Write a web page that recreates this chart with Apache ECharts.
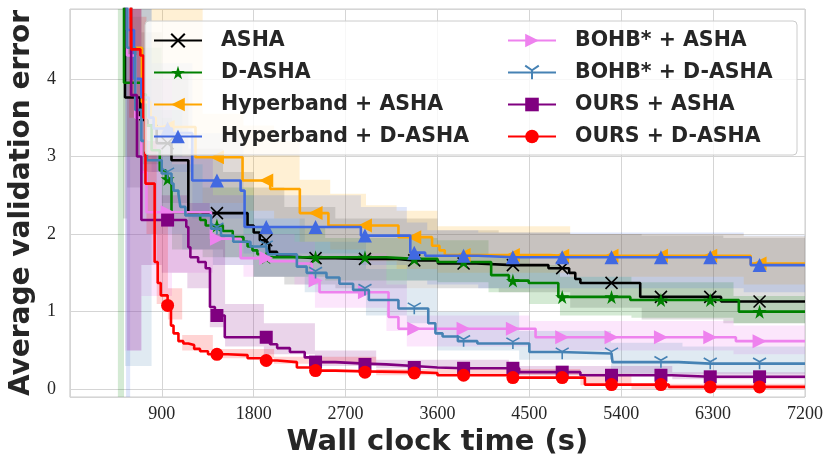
<!DOCTYPE html>
<html><head><meta charset="utf-8">
<script src="https://cdn.jsdelivr.net/npm/echarts@6/dist/echarts.min.js"></script>
<style>html,body{margin:0;padding:0;background:#fff}#c{width:830px;height:467px}</style>
</head><body><div id="c"></div>
<script>
// ---- data (time in seconds, error values) ----
const names = ['ASHA','D-ASHA','Hyperband + ASHA','Hyperband + D-ASHA','BOHB* + ASHA','BOHB* + D-ASHA','OURS + ASHA','OURS + D-ASHA'];
const xTicks = [900,1800,2700,3600,4500,5400,6300,7200];
const yTicks = [0,1,2,3,4];
const markerT = [957,1440,1923,2406,2890,3373,3856,4339,4822,5305,5789,6272,6755];

const ashaT = [520,540,690,760,850,995,1160,1740,1800,1860,1930,1952,2029,2150,2600,3200,3605,3982,4687,4890,4950,5000,5586,6378];
const ashaY = [6.0,3.76,3.47,3.4,3.17,2.95,2.27,2.11,2.02,1.92,1.88,1.77,1.71,1.69,1.68,1.66,1.62,1.60,1.56,1.50,1.42,1.37,1.19,1.13];
const dashaT = [510,530,700,744,800,880,940,995,1276,1330,1498,1595,1700,1740,1788,1836,1884,3100,3600,4126,4300,4494,4784,5489,6552];
const dashaY = [6.0,3.95,3.8,3.4,3.08,2.82,2.71,2.28,2.18,2.11,2.04,1.96,1.90,1.84,1.79,1.74,1.70,1.68,1.64,1.47,1.40,1.37,1.19,1.15,1.0];
const hbAshaT = [560,600,705,790,841,1230,1691,1962,2252,2532,3218,3547,3620,3672,4700,6668];
const hbAshaY = [6.0,4.4,3.7,3.5,3.38,2.99,2.69,2.58,2.27,2.11,1.96,1.85,1.79,1.73,1.72,1.62];
const hbDashaT = [540,560,628,700,773,820,1000,1198,1672,1711,2850,3334,3480,4000,6668];
const hbDashaY = [6.0,4.63,4.0,3.76,3.5,3.36,3.3,2.69,2.56,2.09,1.98,1.76,1.72,1.70,1.60];
const bohbAshaT = [540,560,640,700,750,1382,1672,1950,2223,2368,2445,3121,3218,4561,6523];
const bohbAshaY = [6.0,4.3,3.5,2.8,2.28,1.94,1.69,1.65,1.62,1.40,1.25,0.93,0.78,0.67,0.62];
const bohbDashaT = [540,560,640,700,754,899,995,1015,1063,1082,1131,1382,1480,1600,1768,1940,2223,2319,2513,2640,2774,2928,3218,3510,3580,3650,3800,3991,4500,4803,5315,5963];
const bohbDashaY = [6.0,4.4,3.6,3.2,2.95,2.78,2.65,2.56,2.52,2.35,2.24,2.07,1.98,1.90,1.84,1.74,1.58,1.50,1.44,1.36,1.28,1.15,1.04,0.85,0.72,0.68,0.62,0.59,0.48,0.46,0.35,0.33];
const oursAshaT = [560,600,657,700,1140,1160,1180,1256,1330,1372,1420,1517,1960,2030,2155,2300,2406,2600,2890,3100,3373,3600,4400,5000,5900];
const oursAshaY = [6.0,3.79,3.0,2.18,2.09,1.83,1.70,1.64,1.56,1.06,0.95,0.67,0.58,0.53,0.48,0.41,0.35,0.33,0.32,0.30,0.28,0.27,0.22,0.18,0.16];
const oursDashaT = [590,600,690,720,740,830,860,890,957,990,1015,1063,1111,1160,1217,1275,1353,1546,1740,1923,2029,2223,2406,2600,2890,3373,3600,4320,5044,5866];
const oursDashaY = [6.0,4.38,4.3,3.5,2.65,1.64,1.37,1.21,1.08,0.82,0.72,0.62,0.59,0.57,0.52,0.49,0.45,0.44,0.40,0.37,0.35,0.28,0.24,0.23,0.22,0.21,0.18,0.15,0.06,0.03];

// shaded bands: times, lower, upper
const ashaBT = [520,560,700,900,1160,1500,1800,2100,2600,3600,4200,4900,5600,6400];
const ashaLo = [2.2,2.6,2.8,2.4,1.8,1.7,1.45,1.35,1.3,1.3,1.25,1.05,0.9,0.85];
const ashaHi = [6,6,4.6,4.1,3.1,2.8,2.6,2.35,2.2,2.05,2.02,2.0,1.98,1.95];
const dashaBT = [470,530,700,900,1000,1300,1800,2500,3600,4100,4500,4800,5500,6500];
const dashaLo = [-0.5,3.0,2.9,2.2,1.8,1.7,1.45,1.4,1.38,1.25,1.1,0.95,0.92,0.85];
const dashaHi = [6,4.8,4.4,3.5,2.9,2.6,2.1,1.95,1.92,1.7,1.6,1.45,1.38,1.2];
const hbAshaBT = [560,1000,1300,1700,2000,2250,2550,2900,3200,3600,4900,6600];
const hbAshaLo = [3.0,2.9,2.4,2.3,2.2,1.9,1.8,1.65,1.55,1.5,1.45,1.35];
const hbAshaHi = [6,4.9,3.55,3.4,3.2,2.7,2.52,2.37,2.3,2.1,2.0,1.97];
const hbDashaBT = [550,590,800,1200,1700,2850,3300,3500,4000,6600];
const hbDashaLo = [-0.5,3.0,2.8,2.2,1.75,1.6,1.4,1.35,1.3,1.25];
const hbDashaHi = [6,4.9,4.2,3.3,2.5,2.35,2.15,2.05,2.02,1.98];
const bohbAshaBT = [540,700,1000,1400,1700,2200,2400,3100,3300,4500,6500];
const bohbAshaLo = [0.5,1.2,1.5,1.6,1.45,1.35,1.05,0.75,0.55,0.5,0.45];
const bohbAshaHi = [6,4.0,3.0,2.5,2.0,1.9,1.75,1.35,0.95,0.88,0.82];
const bohbDashaBT = [540,800,1100,1400,1800,2300,2900,3300,3600,4400,5300,6000];
const bohbDashaLo = [0.3,2.0,1.8,1.6,1.45,1.25,0.95,0.85,0.5,0.38,0.2,0.2];
const bohbDashaHi = [6,3.6,3.0,2.5,2.2,1.9,1.55,1.3,1.0,0.75,0.6,0.55];
const oursAshaBT = [560,700,900,1150,1370,1520,1900,2400,3000,4300,5900];
const oursAshaLo = [0.5,1.6,1.5,1.3,0.8,0.55,0.45,0.3,0.27,0.18,0.13];
const oursAshaHi = [6,3.2,2.5,2.4,2.0,1.1,0.85,0.5,0.38,0.3,0.22];
const oursDashaBT = [580,700,750,850,960,1100,1400,2000,3000,5000,5500];
const oursDashaLo = [3.5,3.0,2.0,1.1,0.9,0.5,0.4,0.33,0.18,0.05,0.0];
const oursDashaHi = [6,4.8,3.2,2.2,1.3,0.7,0.52,0.42,0.26,0.2,0.07];

// ---- styling ----
const X_MAX = 7200, Y_MIN = -0.1, Y_MAX = 4.9;
const colors = ['#000000','#008000','#FFA500','#4169E1','#EE82EE','#4682B4','#800080','#FF0000'];
const starPath = 'path://M50,0 L61,35 L98,35 L68,57 L79,91 L50,70 L21,91 L32,57 L2,35 L39,35 Z';
const xPath = 'path://M0,0 L10,10 M10,0 L0,10';
const triDownPath = 'path://M5,5 L5,10 M5,5 L0.67,2.5 M5,5 L9.33,2.5';
const markers = [
  {symbol: xPath, size: 12, stroke: true},
  {symbol: starPath, size: 14},
  {symbol: 'triangle', size: 14, rotate: 90},
  {symbol: 'triangle', size: 14},
  {symbol: 'triangle', size: 14, rotate: -90},
  {symbol: triDownPath, size: 13, stroke: true, keep: true},
  {symbol: 'rect', size: 13},
  {symbol: 'circle', size: 13}
];
const lines = [[ashaT,ashaY],[dashaT,dashaY],[hbAshaT,hbAshaY],[hbDashaT,hbDashaY],[bohbAshaT,bohbAshaY],[bohbDashaT,bohbDashaY],[oursAshaT,oursAshaY],[oursDashaT,oursDashaY]];
const bands = [[ashaBT,ashaLo,ashaHi],[dashaBT,dashaLo,dashaHi],[hbAshaBT,hbAshaLo,hbAshaHi],[hbDashaBT,hbDashaLo,hbDashaHi],[bohbAshaBT,bohbAshaLo,bohbAshaHi],[bohbDashaBT,bohbDashaLo,bohbDashaHi],[oursAshaBT,oursAshaLo,oursAshaHi],[oursDashaBT,oursDashaLo,oursDashaHi]];
const bandAlpha = [0.13,0.17,0.17,0.17,0.2,0.17,0.17,0.17];

function stepValue(ts, ys, t) {
  let v = ys[0];
  for (let i = 0; i < ts.length; i++) { if (ts[i] <= t) v = ys[i]; else break; }
  return v;
}
function hexA(hex, a) {
  const n = parseInt(hex.slice(1), 16);
  return 'rgba(' + (n >> 16) + ',' + ((n >> 8) & 255) + ',' + (n & 255) + ',' + a + ')';
}
const clampY = v => Math.max(Y_MIN, Math.min(Y_MAX, v));

const series = [];
bands.forEach((b, i) => {
  const [bt, lo, hi] = b;
  series.push({
    type: 'custom', silent: true, z: 1,
    data: bt.map((t, k) => [t, lo[k], hi[k]]),
    encode: {x: 0, y: [1, 2]},
    renderItem: function (params, api) {
      if (params.dataIndex !== 0) return null;
      const n = bt.length, up = [], dn = [];
      for (let k = 0; k < n; k++) {
        const t0 = bt[k], t1 = k + 1 < n ? bt[k + 1] : X_MAX;
        up.push(api.coord([t0, clampY(hi[k])]), api.coord([t1, clampY(hi[k])]));
        dn.push(api.coord([t0, clampY(lo[k])]), api.coord([t1, clampY(lo[k])]));
      }
      return {type: 'polygon', shape: {points: up.concat(dn.reverse())},
        style: {fill: hexA(colors[i], bandAlpha[i]), stroke: null}};
    }
  });
});
lines.forEach((l, i) => {
  const [ts, ys] = l;
  const pts = ts.map((t, k) => ({value: [t, ys[k]], symbol: 'none'}));
  pts.push({value: [X_MAX, ys[ys.length - 1]], symbol: 'none'});
  markerT.forEach(mt => {
    if (mt > ts[0]) pts.push({value: [mt, stepValue(ts, ys, mt)], m: true});
  });
  pts.sort((a, b) => a.value[0] - b.value[0] || (a.m ? 1 : -1));
  const mk = markers[i];
  const data = pts.map(p => p.m ? {value: p.value} : p);
  series.push({
    name: names[i], type: 'line', step: 'end', z: 2 + i * 0.01,
    symbol: mk.symbol, symbolSize: mk.size, symbolRotate: mk.rotate || 0,
    symbolKeepAspect: !!mk.keep, showSymbol: true, showAllSymbol: true,
    lineStyle: {color: colors[i], width: 2.6},
    itemStyle: mk.stroke ? {color: 'none', borderColor: colors[i], borderWidth: 1.6} : {color: colors[i]},
    data: data
  });
});

const legendText = {fontFamily: 'DejaVu Sans', fontWeight: 'bold', fontSize: 20.5, color: '#262626', padding: [0, 0, 0, 14]};
const legendBase = {orient: 'vertical', top: 25, itemWidth: 48, itemHeight: 17, itemGap: 11, textStyle: legendText, selectedMode: false};
const chart = echarts.init(document.getElementById('c'), null, {renderer: 'canvas'});
chart.setOption({
  animation: false,
  backgroundColor: '#ffffff',
  grid: {left: 60, right: 25, top: 9, bottom: 70, show: true, borderColor: '#cccccc', borderWidth: 1},
  xAxis: {
    type: 'value', min: 0, max: X_MAX, interval: xTicks[0],
    name: 'Wall clock time (s)', nameLocation: 'middle', nameGap: 29,
    nameTextStyle: {fontFamily: 'DejaVu Sans', fontWeight: 'bold', fontSize: 29, color: '#262626'},
    axisLine: {show: false}, axisTick: {show: false},
    axisLabel: {showMinLabel: false, fontFamily: 'Liberation Serif', fontSize: 18, color: '#262626', margin: 8,
      formatter: v => String(v)},
    splitLine: {show: true, lineStyle: {color: '#d5d5d5', width: 1}}
  },
  yAxis: {
    type: 'value', min: Y_MIN, max: Y_MAX, splitNumber: 5,
    name: 'Average validation error', nameLocation: 'middle', nameGap: 22,
    nameTextStyle: {fontFamily: 'DejaVu Sans', fontWeight: 'bold', fontSize: 28, color: '#262626'},
    axisLine: {show: false}, axisTick: {show: false},
    axisLabel: {showMinLabel: false, showMaxLabel: false, fontFamily: 'Liberation Serif', fontSize: 18, color: '#262626', margin: 14,
      formatter: v => (yTicks.indexOf(Math.round(v * 1000) / 1000) >= 0 ? String(Math.round(v)) : '')},
    splitLine: {show: true, lineStyle: {color: '#d5d5d5', width: 1}}
  },
  graphic: [{type: 'rect', z: 3, shape: {x: 145, y: 21, width: 652, height: 134, r: 4},
    style: {fill: 'rgba(255,255,255,0.8)', stroke: '#cccccc', lineWidth: 1}}],
  legend: [
    Object.assign({data: names.slice(0, 4), left: 148}, legendBase),
    Object.assign({data: names.slice(4), left: 502}, legendBase)
  ],
  series: series
});
</script></body></html>
